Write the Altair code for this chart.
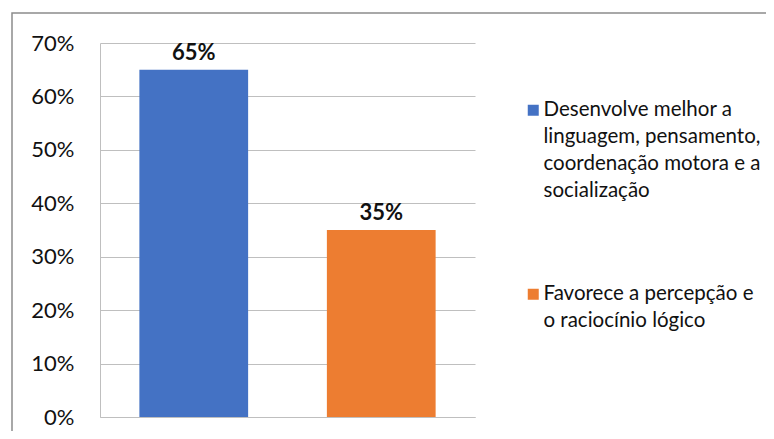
import altair as alt
import pandas as pd

categories = [
    "Desenvolve melhor a\nlinguagem, pensamento,\ncoordenação motora e a\nsocialização",
    "Favorece a percepção e\no raciocínio lógico",
]
values = [0.65, 0.35]
colors = ["#4472C4", "#ED7D31"]
y_ticks = [0, 0.1, 0.2, 0.3, 0.4, 0.5, 0.6, 0.7]

df = pd.DataFrame({"cat": categories, "val": values})

FONT = "Lato"

base = alt.Chart(df).encode(
    x=alt.X(
        "cat:N",
        sort=categories,
        scale=alt.Scale(paddingInner=0.42, paddingOuter=0.21),
        axis=alt.Axis(labels=False, ticks=False, title=None, domainColor="#BFBFBF", grid=False),
    ),
    y=alt.Y(
        "val:Q",
        scale=alt.Scale(domain=[0, 0.7], nice=False),
        axis=alt.Axis(
            values=y_ticks,
            format=".0%",
            title=None,
            ticks=False,
            labelPadding=26,
            labelFont=FONT,
            labelFontSize=22,
            labelColor="#111111",
            gridColor="#BFBFBF",
            domainColor="#BFBFBF",
        ),
    ),
)

bars = base.mark_bar().encode(
    color=alt.Color(
        "cat:N",
        sort=categories,
        scale=alt.Scale(domain=categories, range=colors),
        legend=alt.Legend(
            title=None,
            orient="none",
            legendX=423,
            legendY=57,
            symbolType="square",
            symbolSize=121,
            symbolStrokeWidth=0,
            labelFont=FONT,
            labelFontSize=20.5,
            labelColor="#111111",
            labelLimit=400,
            labelOffset=0,
            labelExpr="split(datum.label, '\\n')",
            rowPadding=82,
            padding=0,
        ),
    )
)

labels = base.mark_text(
    baseline="bottom", dy=-5, font=FONT, fontSize=22, fontWeight="bold", color="#111111"
).encode(text=alt.Text("val:Q", format=".0%"))

frame = alt.Chart(pd.DataFrame({"f": [0]})).mark_rect(
    filled=False, stroke="#8C8C8C", strokeWidth=1.5, clip=False
).encode(
    x=alt.value(-88), x2=alt.value(800), y=alt.value(-30), y2=alt.value(450)
)

chart = alt.layer(frame, bars, labels).properties(
    width=375,
    height=374,
    autosize=alt.AutoSizeParams(type="none"),
    padding={"left": 92, "top": 35, "right": 291, "bottom": 14},
).configure(
    style={"guide-label": {"lineHeight": 27}},
    view={"strokeWidth": 0},
)

chart.save("out.html", embed_options={"renderer": "svg", "actions": False})
